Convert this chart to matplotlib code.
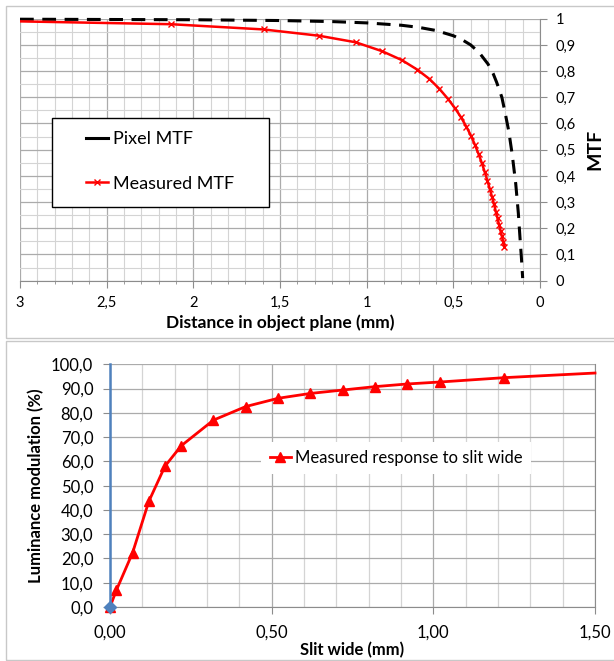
import matplotlib
matplotlib.use("Agg")
import matplotlib.pyplot as plt
from matplotlib.ticker import MultipleLocator, FuncFormatter
from matplotlib.patches import Rectangle

plt.rcParams['font.family'] = ['Lato', 'DejaVu Sans']

# ---- top chart: MTF vs distance in object plane ----
pixel_dist = [3.0, 2.0, 1.5, 1.2, 1.0, 0.8, 0.7, 0.6, 0.5, 0.45, 0.4, 0.35, 0.3,
              0.27, 0.25, 0.22, 0.2, 0.18, 0.16, 0.14, 0.125, 0.115, 0.107, 0.1]
pixel_mtf = [0.998, 0.996, 0.993, 0.989, 0.984, 0.975, 0.967, 0.955, 0.935, 0.92,
             0.9, 0.87, 0.827, 0.79, 0.757, 0.7, 0.637, 0.57, 0.48, 0.37, 0.258,
             0.16, 0.085, 0.01]

meas_dist = [3.18, 2.13, 1.595, 1.275, 1.063, 0.911, 0.797, 0.709, 0.638, 0.58,
             0.531, 0.49, 0.455, 0.425, 0.398, 0.375, 0.354, 0.335, 0.3185, 0.303,
             0.2895, 0.277, 0.265, 0.255, 0.245, 0.236, 0.2275, 0.2196, 0.2123, 0.2055]
meas_mtf = [0.992, 0.979, 0.959, 0.935, 0.91, 0.876, 0.842, 0.806, 0.77, 0.732,
            0.694, 0.658, 0.623, 0.588, 0.553, 0.518, 0.483, 0.448, 0.414, 0.381,
            0.35, 0.32, 0.291, 0.264, 0.238, 0.213, 0.19, 0.169, 0.149, 0.13]

# ---- bottom chart: luminance modulation vs slit width ----
slit_w = [0, 0.02, 0.07, 0.12, 0.17, 0.22, 0.32, 0.42, 0.52, 0.62, 0.72, 0.82,
          0.92, 1.02, 1.22, 1.5]
lum_mod = [0, 7.0, 22.4, 43.5, 58.0, 66.4, 77.0, 82.6, 86.0, 88.0, 89.4, 90.8,
           91.9, 92.7, 94.5, 96.4]

axis_blue = [0, 0]
axis_blue_y = [0, 100]

GRID_MIN = '#d4d4d4'
GRID_MAJ = '#ababab'
AXIS_C = '#8c8c8c'

fig = plt.figure(figsize=(6.14, 6.61), dpi=100)
W, H = 614, 661


def frac(x0, y0, x1, y1):
    # pixel box (top-left origin) -> figure fraction rect
    return [x0 / W, 1 - y1 / H, (x1 - x0) / W, (y1 - y0) / H]


# chart borders
for (x0, y0, x1, y1) in [(6, 6, 616, 338), (6, 341, 616, 660)]:
    fig.patches.append(Rectangle((x0 / W, 1 - y1 / H), (x1 - x0) / W, (y1 - y0) / H,
                                 transform=fig.transFigure, fill=False,
                                 edgecolor='#c8c8c8', lw=1.0))

# ---------------- top ----------------
ax1 = fig.add_axes(frac(20, 18.7, 540, 280.7))
ax1.set_xlim(3, 0)
ax1.set_ylim(0, 1)
ax1.xaxis.set_major_locator(MultipleLocator(0.5))
ax1.xaxis.set_minor_locator(MultipleLocator(0.1))
ax1.yaxis.set_major_locator(MultipleLocator(0.1))
ax1.yaxis.set_minor_locator(MultipleLocator(0.05))
ax1.grid(which='minor', color=GRID_MIN, lw=0.8)
ax1.grid(which='major', color=GRID_MAJ, lw=0.9)
ax1.set_axisbelow(True)
ax1.yaxis.tick_right()
ax1.yaxis.set_label_position('right')
for s in ['top', 'left']:
    ax1.spines[s].set_visible(False)
for s in ['bottom', 'right']:
    ax1.spines[s].set_color(AXIS_C)
ax1.tick_params(which='major', length=5, color=AXIS_C, labelsize=10.5, pad=6)
ax1.tick_params(which='minor', length=2.5, color=AXIS_C)
ax1.tick_params(axis='y', which='minor', length=0)
ax1.xaxis.set_major_formatter(FuncFormatter(lambda v, p: ('%g' % v).replace('.', ',')))
ax1.yaxis.set_major_formatter(FuncFormatter(lambda v, p: ('%g' % round(v, 2)).replace('.', ',')))

ax1.plot(pixel_dist, pixel_mtf, color='black', lw=2.2, dashes=(4.5, 2.8),
         label='Pixel MTF', clip_on=False)
ax1.plot(meas_dist, meas_mtf, color='#ff0000', lw=1.8, marker='x', ms=4.5,
         mew=1.0, label='Measured MTF')

ax1.set_xlabel('Distance in object plane (mm)', fontsize=12.5, fontweight='bold', labelpad=3)
ax1.set_ylabel('MTF', fontsize=14, fontweight='bold', labelpad=8)

# legend box drawn as its own rectangle, entries placed inside it
ax1.add_patch(Rectangle((52 / W, 1 - 207 / H), (269 - 52) / W, (207 - 118) / H,
                        transform=fig.transFigure, facecolor='white',
                        edgecolor='black', lw=1.0, zorder=5, clip_on=False))
leg1 = ax1.legend(loc='upper left', bbox_to_anchor=(86 / W, 1 - 131 / H),
                  bbox_transform=fig.transFigure, frameon=False, fontsize=13,
                  handlelength=1.2, handletextpad=0.3, labelspacing=1.58,
                  borderpad=0, borderaxespad=0)
leg1.set_zorder(6)
leg1.get_lines()[0].set_linestyle('-')

# ---------------- bottom ----------------
ax2 = fig.add_axes(frac(110, 364.3, 595, 607))
ax2.set_xlim(0, 1.5)
ax2.set_ylim(0, 100)
ax2.xaxis.set_major_locator(MultipleLocator(0.5))
ax2.xaxis.set_minor_locator(MultipleLocator(0.1))
ax2.yaxis.set_major_locator(MultipleLocator(10))
ax2.grid(which='minor', axis='x', color=GRID_MIN, lw=0.9)
ax2.grid(which='major', color=GRID_MAJ, lw=0.9)
ax2.set_axisbelow(True)
ax2.spines['top'].set_visible(False)
ax2.spines['left'].set_visible(False)
ax2.spines['bottom'].set_color(AXIS_C)
ax2.spines['right'].set_color(AXIS_C)
ax2.tick_params(which='major', length=5, color=AXIS_C, labelsize=12, pad=7)
ax2.tick_params(which='minor', length=0)
ax2.tick_params(axis='x', pad=8)
ax2.xaxis.set_major_formatter(FuncFormatter(lambda v, p: ('%.2f' % v).replace('.', ',')))
ax2.yaxis.set_major_formatter(FuncFormatter(lambda v, p: ('%.1f' % v).replace('.', ',')))

ax2.plot(axis_blue, axis_blue_y, color='#4f81bd', lw=1.8, marker='D', ms=6,
         markevery=[0], clip_on=False, zorder=4)
ax2.plot(slit_w, lum_mod, color='#ff0000', lw=2.0, marker='^', ms=7,
         markevery=list(range(len(slit_w) - 1)), clip_on=False, zorder=3,
         label='Measured response to slit wide')

ax2.set_xlabel('Slit wide (mm)', fontsize=12, fontweight='bold', labelpad=1)
ax2.set_ylabel('Luminance modulation (%)', fontsize=12, fontweight='bold', labelpad=5)

leg2 = ax2.legend(loc='center', bbox_to_anchor=((396 - 110) / 485, (607 - 458) / 242.7),
                  frameon=True, fancybox=False, edgecolor='none', facecolor='white',
                  framealpha=1, fontsize=12, handlelength=1.25, handletextpad=0.25,
                  borderpad=0.5)

fig.savefig('out.png', dpi=100)
